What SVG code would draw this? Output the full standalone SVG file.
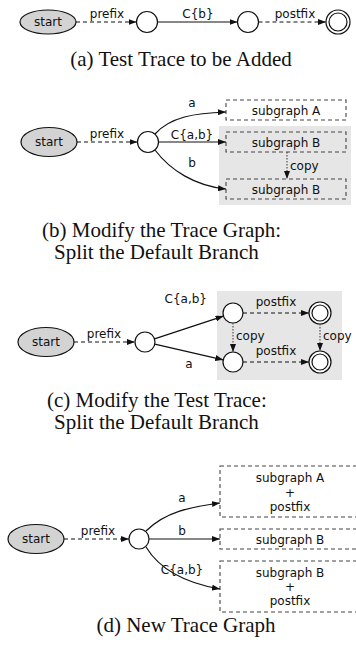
<svg xmlns="http://www.w3.org/2000/svg" width="356" height="647" viewBox="0 0 356 647">
<style>
.lbl{font-family:"DejaVu Sans",sans-serif;font-size:12px;fill:#111}
.cap{font-family:"Liberation Serif",serif;font-size:21px;fill:#111}
.st{fill:#d3d3d3;stroke:#111;stroke-width:1.2}
.nd{fill:#fff;stroke:#111;stroke-width:1.2}
.box{fill:none;stroke:#444;stroke-width:1.1;stroke-dasharray:4,3}
.bg{fill:#e6e6e6;stroke:none}
.solid{fill:none;stroke:#111;stroke-width:1.2}
.dash{fill:none;stroke:#111;stroke-width:1.2;stroke-dasharray:4,3}
.dot{fill:none;stroke:#444;stroke-width:1.1;stroke-dasharray:1.5,1.5}
</style>
<defs>
<marker id="ah" viewBox="0 0 8 6" refX="8" refY="3" markerWidth="8" markerHeight="6" markerUnits="userSpaceOnUse" orient="auto">
<path d="M0,0 L8,3 L0,6 z" fill="#111"/>
</marker>
</defs>

<!-- backgrounds -->
<rect class="bg" x="219" y="126" width="132" height="79"/>
<rect class="bg" x="217" y="291" width="125" height="89"/>

<!-- Panel a -->
<g id="a-start"><ellipse class="st" cx="48" cy="22" rx="28" ry="12"/><text class="lbl" x="48" y="26" text-anchor="middle">start</text></g>
<g id="a-n1"><circle class="nd" cx="147" cy="22" r="10.5"/></g>
<g id="a-n2"><circle class="nd" cx="248" cy="22" r="10.5"/></g>
<g id="a-end"><circle class="nd" cx="338" cy="22" r="12"/><circle class="nd" cx="338" cy="22" r="9"/></g>

<!-- Panel b -->
<g id="b-start"><ellipse class="st" cx="49" cy="142" rx="28" ry="14.5"/><text class="lbl" x="49" y="146" text-anchor="middle">start</text></g>
<g id="b-n1"><circle class="nd" cx="148" cy="142" r="10.5"/></g>
<g id="b-A"><rect class="box" x="226" y="100" width="120" height="20"/><text class="lbl" x="286" y="115" text-anchor="middle">subgraph A</text></g>
<g id="b-B1"><rect class="box" x="226" y="132" width="120" height="20"/><text class="lbl" x="286" y="147" text-anchor="middle">subgraph B</text></g>
<g id="b-B2"><rect class="box" x="226" y="179" width="120" height="20"/><text class="lbl" x="286" y="194" text-anchor="middle">subgraph B</text></g>

<!-- Panel c -->
<g id="c-start"><ellipse class="st" cx="46" cy="342" rx="28" ry="14.5"/><text class="lbl" x="46" y="346" text-anchor="middle">start</text></g>
<g id="c-n1"><circle class="nd" cx="145" cy="342" r="10"/></g>
<g id="c-n2"><circle class="nd" cx="233" cy="313" r="10"/></g>
<g id="c-n3"><circle class="nd" cx="320" cy="313" r="11"/><circle class="nd" cx="320" cy="313" r="8"/></g>
<g id="c-n4"><circle class="nd" cx="233" cy="362" r="10"/></g>
<g id="c-n5"><circle class="nd" cx="320" cy="362" r="11"/><circle class="nd" cx="320" cy="362" r="8"/></g>

<!-- Panel d -->
<g id="d-start"><ellipse class="st" cx="36" cy="539" rx="28" ry="14.5"/><text class="lbl" x="36" y="543" text-anchor="middle">start</text></g>
<g id="d-n1"><circle class="nd" cx="139" cy="539" r="10"/></g>
<g id="d-A"><rect class="box" x="220" y="466" width="142" height="51"/><text class="lbl" x="290" y="482" text-anchor="middle">subgraph A</text><text class="lbl" x="290" y="497" text-anchor="middle">+</text><text class="lbl" x="290" y="511" text-anchor="middle">postfix</text></g>
<g id="d-B"><rect class="box" x="220" y="529" width="142" height="20"/><text class="lbl" x="290" y="544" text-anchor="middle">subgraph B</text></g>
<g id="d-B2"><rect class="box" x="220" y="561" width="142" height="51"/><text class="lbl" x="290" y="577" text-anchor="middle">subgraph B</text><text class="lbl" x="290" y="591" text-anchor="middle">+</text><text class="lbl" x="290" y="605" text-anchor="middle">postfix</text></g>

<!-- Connectors -->
<g id="connectors">
<path class="dash" d="M76,22 L136.5,22" marker-end="url(#ah)"/>
<path class="solid" d="M157.5,22 L237.5,22" marker-end="url(#ah)"/>
<path class="dash" d="M258.5,22 L326,22" marker-end="url(#ah)"/>

<path class="dash" d="M77,142 L137.5,142" marker-end="url(#ah)"/>
<path class="solid" d="M155,134 C170,117 195,113 226,112" marker-end="url(#ah)"/>
<path class="solid" d="M158.5,142 L226,142" marker-end="url(#ah)"/>
<path class="solid" d="M155,150 C170,170 195,186 226,189" marker-end="url(#ah)"/>
<path class="dot" d="M287,152 L287,179" marker-end="url(#ah)"/>

<path class="dash" d="M74,342 L135,342" marker-end="url(#ah)"/>
<path class="solid" d="M154.5,338.9 L223.5,316.1" marker-end="url(#ah)"/>
<path class="solid" d="M154.8,344.2 L223.2,359.8" marker-end="url(#ah)"/>
<path class="dash" d="M243,313 L309,313" marker-end="url(#ah)"/>
<path class="dash" d="M243,362 L309,362" marker-end="url(#ah)"/>
<path class="dot" d="M233,323 L233,352" marker-end="url(#ah)"/>
<path class="dot" d="M320,324 L320,351" marker-end="url(#ah)"/>

<path class="dash" d="M64,539 L129,539" marker-end="url(#ah)"/>
<path class="solid" d="M146,531 C165,512 190,507 220,503" marker-end="url(#ah)"/>
<path class="solid" d="M149,539 L220,539" marker-end="url(#ah)"/>
<path class="solid" d="M146,547 C160,570 185,583 220,589" marker-end="url(#ah)"/>
</g>

<!-- Edge labels -->
<g id="edge-labels">
<text class="lbl" x="107" y="18" text-anchor="middle">prefix</text>
<text class="lbl" x="198" y="18" text-anchor="middle">C{b}</text>
<text class="lbl" x="295" y="18" text-anchor="middle">postfix</text>

<text class="lbl" x="107" y="138" text-anchor="middle">prefix</text>
<text class="lbl" x="192" y="107" text-anchor="middle">a</text>
<text class="lbl" x="192" y="139" text-anchor="middle">C{a,b}</text>
<text class="lbl" x="192" y="167" text-anchor="middle">b</text>
<text class="lbl" x="290" y="170">copy</text>

<text class="lbl" x="104" y="338" text-anchor="middle">prefix</text>
<text class="lbl" x="207" y="303" text-anchor="end">C{a,b}</text>
<text class="lbl" x="189" y="368" text-anchor="middle">a</text>
<text class="lbl" x="276" y="306" text-anchor="middle">postfix</text>
<text class="lbl" x="276" y="355" text-anchor="middle">postfix</text>
<text class="lbl" x="236" y="340">copy</text>
<text class="lbl" x="323" y="340">copy</text>

<text class="lbl" x="98" y="535" text-anchor="middle">prefix</text>
<text class="lbl" x="182" y="502" text-anchor="middle">a</text>
<text class="lbl" x="182" y="535" text-anchor="middle">b</text>
<text class="lbl" x="182" y="574" text-anchor="middle">C{a,b}</text>
</g>

<!-- Captions -->
<g id="captions">
<text class="cap" x="181" y="66" text-anchor="middle">(a) Test Trace to be Added</text>
<text class="cap" x="42" y="237">(b) Modify the Trace Graph:</text>
<text class="cap" x="54" y="259">Split the Default Branch</text>
<text class="cap" x="47" y="407">(c) Modify the Test Trace:</text>
<text class="cap" x="54" y="429">Split the Default Branch</text>
<text class="cap" x="186" y="632" text-anchor="middle">(d) New Trace Graph</text>
</g>
</svg>
